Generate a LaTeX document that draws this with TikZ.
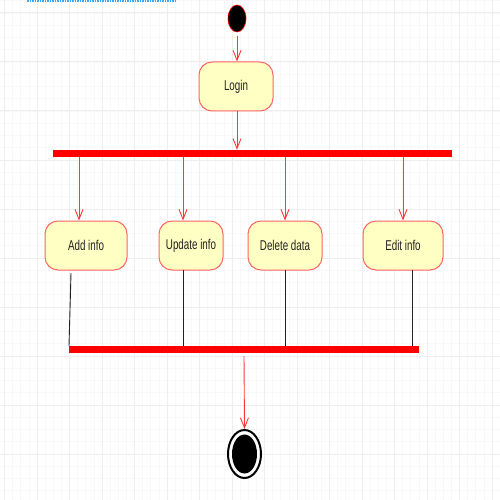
\documentclass[tikz,border=0pt]{standalone}
\usepackage{fontspec}
\setmainfont{Liberation Sans}
\usepackage{xcolor}
\usepackage{tikz}
\usetikzlibrary{calc,arrows.meta,shapes.geometric}
\definecolor{fillact}{HTML}{FFFFC4}
\definecolor{edge}{HTML}{FF6464}
\definecolor{flowred}{HTML}{FF3838}
\definecolor{barred}{HTML}{FF0000}
\definecolor{gridmaj}{HTML}{EEEEEE}
\definecolor{gridmin}{HTML}{F8F8F8}
\definecolor{selblue}{HTML}{3AA8FF}
\definecolor{ink}{HTML}{222222}
\newcommand{\acttext}[1]{\scalebox{1}[1.45]{#1}}
\tikzset{
  act/.style={draw=edge, fill=fillact, line width=1pt, rounded corners=13pt,
    minimum height=49pt, inner sep=0pt, text=ink, font=\fontsize{9.8}{11}\selectfont},
  bar/.style={fill=barred, draw=none, minimum height=7pt, inner sep=0pt},
  flow/.style={draw=flowred, line width=0.9pt, -{Straight Barb[length=10pt,width=8pt]}},
  merge/.style={draw=ink, line width=0.9pt},
  gridminor/.style={draw=gridmin, line width=0.7pt},
  gridmajor/.style={draw=gridmaj, line width=1pt}
}
\begin{document}
\begin{tikzpicture}[x=1pt,y=-1pt]
\useasboundingbox (0,0) rectangle (500,500);
\fill[white] (0,0) rectangle (500,500);
% background grid
\foreach \i in {0,...,60} \draw[gridminor] ({4.5+8.125*\i},0) -- ++(0,500);
\foreach \j in {0,...,40} \draw[gridminor] (0,{0.75+12.25*\j}) -- ++(500,0);
\foreach \i in {0,...,15} \draw[gridmajor] ({4.5+32.5*\i},0) -- ++(0,500);
\foreach \j in {0,...,9} \draw[gridmajor] (0,{13+49*\j}) -- ++(500,0);
\draw[selblue, line width=1.5pt, densely dotted] (27,0.8) -- (175,0.8);

% nodes
\node[ellipse, fill=black, draw=barred, line width=0.6pt, minimum width=18pt,
  minimum height=27pt, inner sep=0pt] (start) at (237,18.5) {};
\node[act, minimum width=74pt] (login) at (236,86.5) {\acttext{Login}};
\node[bar, minimum width=399pt] (fork) at (252.5,153.5) {};
\node[act, minimum width=82pt] (add) at (86,245.5) {\acttext{Add info}};
\node[act, minimum width=64pt] (update) at (191,245.5) {\acttext{Update info}};
\node[act, minimum width=74pt] (delete) at (285,245.5) {\acttext{Delete data}};
\node[act, minimum width=80pt] (edit) at (403,245.5) {\acttext{Edit info}};
\node[bar, minimum width=350pt] (join) at (244,349.5) {};
\node[ellipse, draw=black, line width=2pt, fill=white, minimum width=33pt,
  minimum height=48pt, inner sep=0pt] (final) at (244.5,454) {};
\node[ellipse, fill=black, minimum width=25pt, minimum height=39pt,
  inner sep=0pt] (finaldot) at (final.center) {};

% control flow
\coordinate (s0) at (237,36);
\coordinate (l0) at (237,111);
\coordinate (f1) at (79,157);
\coordinate (f2) at (183,157);
\coordinate (f3) at (285,157);
\coordinate (f4) at (403,157);
\coordinate (m1) at (71,273);
\coordinate (m2) at (183,270);
\coordinate (m3) at (285,270);
\coordinate (m4) at (412,270);
\coordinate (j0) at (244,356);
\draw[flow] (s0) -- (s0 |- login.north);
\draw[flow] (l0) -- (l0 |- fork.north);
\draw[flow] (f1) -- (f1 |- add.north);
\draw[flow] (f2) -- (f2 |- update.north);
\draw[flow] (f3) -- (f3 |- delete.north);
\draw[flow] (f4) -- (f4 |- edit.north);
\draw[merge] (m1) -- (69,346);
\draw[merge] (m2) -- (m2 |- join.north);
\draw[merge] (m3) -- (m3 |- join.north);
\draw[merge] (m4) -- (m4 |- join.north);
\draw[flow] (j0) -- (final.north);
\end{tikzpicture}
\end{document}
